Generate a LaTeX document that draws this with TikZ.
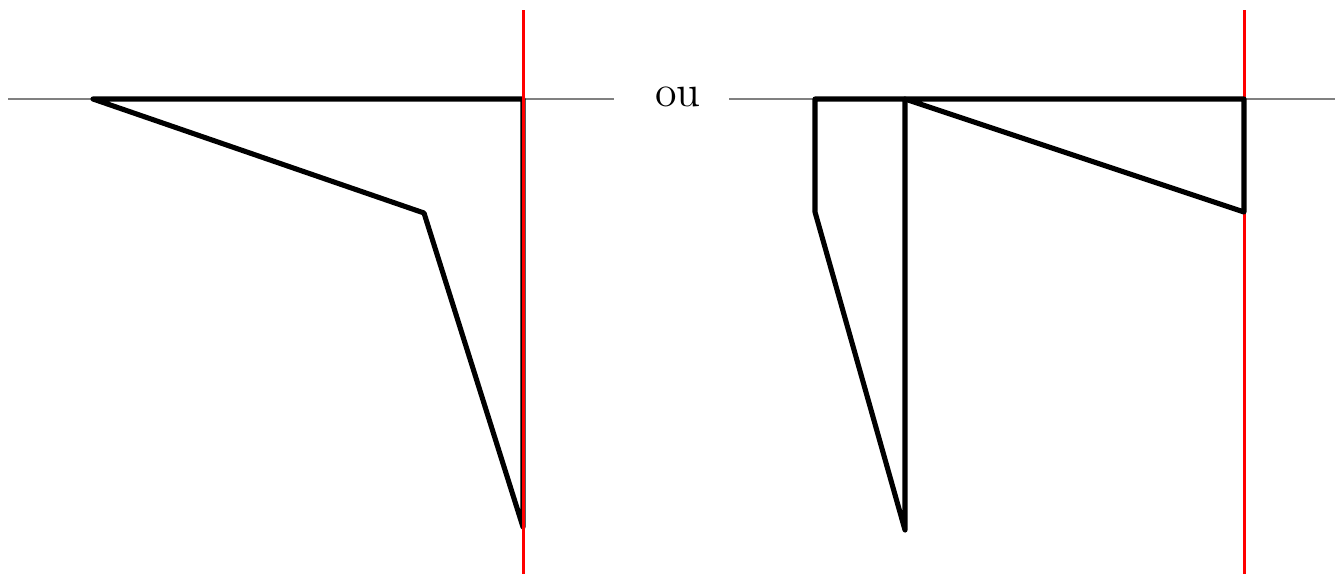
\documentclass[tikz,border=0pt]{standalone}
\usepackage{tikz}
\usetikzlibrary{positioning}

\begin{document}
\begin{tikzpicture}[x=0.1mm, y=-0.1mm]
    % Stili
    \tikzstyle{asse} = [draw=gray, line width=0.6pt]
    \tikzstyle{rossa} = [draw=red, line width=0.85pt]
    \tikzstyle{profilo} = [draw=black, line width=1.45pt, line join=round]

    \useasboundingbox (0,0) rectangle (1344,574);

    % Nodi
    \coordinate (asx) at (8,99);
    \coordinate (adx) at (614,99);
    \coordinate (rsu) at (523,10);
    \coordinate (rgiu) at (523,574);
    \coordinate (p1) at (93,99);
    \coordinate (p2) at (523,99);
    \coordinate (p3) at (523,527);
    \coordinate (p4) at (424,213);

    \node (ou) at (678,97) {\fontsize{12.5}{14}\selectfont ou};

    \coordinate (bsx) at (729,99);
    \coordinate (bdx) at (1335,99);
    \coordinate (ssu) at (1244,10);
    \coordinate (sgiu) at (1244,574);
    \coordinate (q1) at (815,99);
    \coordinate (q2) at (905,99);
    \coordinate (q3) at (1244,99);
    \coordinate (q4) at (1244,212);
    \coordinate (q5) at (905,530);
    \coordinate (q6) at (815,212);

    % Collegamenti
    \draw [asse] (asx) -- (adx);
    \draw [asse] (bsx) -- (bdx);
    \draw [profilo] (p1) -- (p2) -- (p3) -- (p4) -- cycle;
    \draw [rossa] (rsu) -- (rgiu);
    \draw [rossa] (ssu) -- (sgiu);
    \draw [profilo] (q2) -- (q3) -- (q4) -- cycle;
    \draw [profilo] (q1) -- (q2) -- (q5) -- (q6) -- cycle;
\end{tikzpicture}
\end{document}
